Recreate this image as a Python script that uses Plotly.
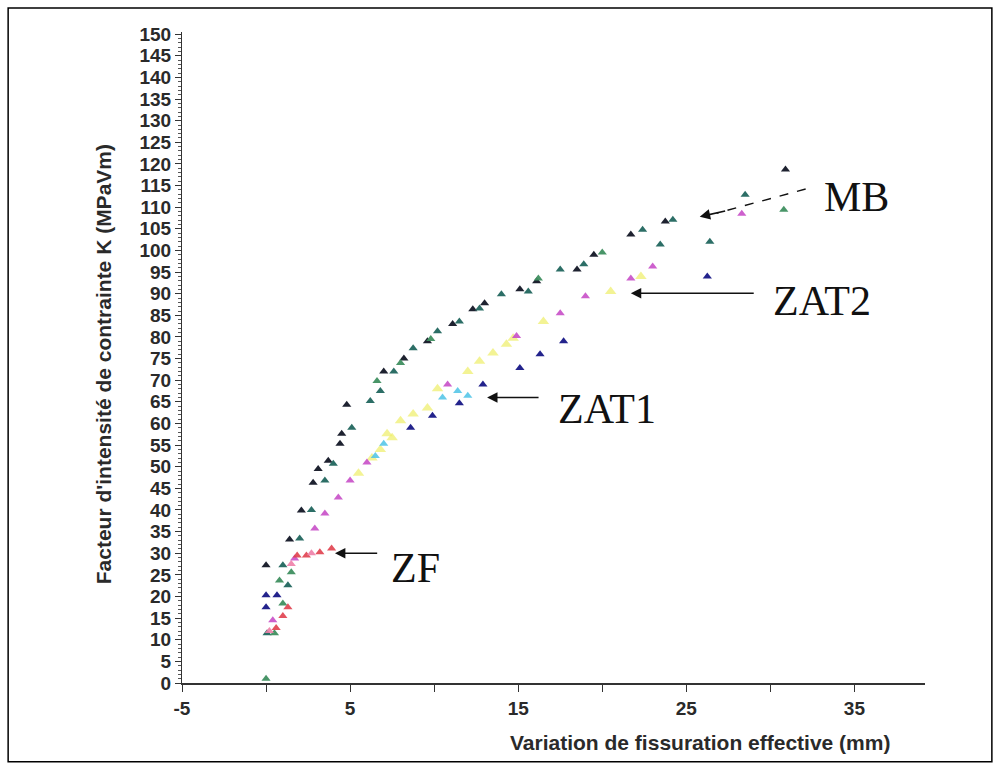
import plotly.graph_objects as go

# Base metal (MB) - dark series
mb_dark_x = [0.0, 1.4, 2.1, 2.8, 3.1, 3.7, 4.4, 4.5, 4.8, 7.0, 8.2, 9.6, 11.1, 12.3, 13.0, 15.1, 16.1, 18.5, 19.5, 21.7, 23.75, 30.9]
mb_dark_y = [27.2, 33.2, 39.9, 46.3, 49.5, 51.4, 55.3, 57.6, 64.3, 72.0, 75.0, 79.0, 83.0, 86.4, 87.8, 91.0, 92.9, 95.6, 99.0, 103.7, 106.7, 118.7]

# Base metal (MB) - teal series
mb_teal_x = [0.06, 1.0, 1.3, 2.0, 2.7, 3.5, 4.0, 5.1, 6.2, 6.8, 7.6, 8.75, 10.2, 11.5, 12.7, 14.0, 15.6, 17.5, 18.9, 22.4, 23.45, 24.2, 26.4, 28.5]
mb_teal_y = [11.5, 27.2, 22.6, 33.4, 40.0, 46.8, 50.7, 59.0, 65.2, 67.5, 72.0, 77.4, 81.3, 83.6, 86.6, 89.9, 90.5, 95.6, 96.8, 104.8, 101.4, 107.1, 102.0, 112.9]

# Base metal (MB) - green series
mb_green_x = [0.0, 0.5, 0.8, 1.0, 1.5, 6.6, 8.0, 9.8, 16.2, 20.0, 30.8]
mb_green_y = [1.0, 11.5, 23.7, 18.4, 25.6, 69.8, 74.0, 79.5, 93.5, 99.5, 109.4]

# ZAT2 - yellow series
zat2_yel_x = [5.5, 6.3, 6.8, 7.2, 7.5, 8.0, 8.75, 9.6, 10.2, 12.0, 12.7, 13.5, 14.3, 14.7, 16.5, 20.5, 22.3]
zat2_yel_y = [48.5, 52.0, 54.0, 57.6, 56.7, 60.6, 62.2, 63.6, 68.0, 72.0, 74.4, 76.3, 78.3, 79.7, 83.6, 90.5, 94.0]

# ZAT2 - magenta series
zat2_mag_x = [0.4, 1.7, 2.9, 3.5, 4.3, 5.0, 6.0, 10.8, 14.9, 17.5, 19.0, 21.7, 23.0, 28.3]
zat2_mag_y = [14.5, 28.8, 35.7, 39.2, 42.9, 46.8, 51.0, 69.0, 80.2, 85.5, 89.4, 93.5, 96.3, 108.5]

# ZAT1 - navy series
zat1_navy_x = [0.0, 0.0, 0.65, 8.6, 9.9, 11.5, 12.9, 15.1, 16.3, 17.7, 26.25]
zat1_navy_y = [20.3, 17.5, 20.3, 59.0, 61.8, 64.7, 69.0, 72.8, 76.0, 79.0, 94.0]

# ZAT1 - cyan series
zat1_cyan_x = [6.5, 7.0, 10.5, 11.4, 12.0]
zat1_cyan_y = [52.5, 55.3, 66.0, 67.5, 66.4]

# ZF - red and pink series
zf_red_x = [0.6, 1.0, 1.3, 1.85, 2.4, 3.2, 3.9]
zf_red_y = [12.7, 15.5, 17.5, 29.5, 29.5, 30.2, 31.1]
zf_pink_x = [0.2, 1.5, 2.7]
zf_pink_y = [12.0, 27.5, 30.0]

x_tick_vals = [-5, 5, 15, 25, 35]
y_tick_vals = list(range(0, 151, 5))

series = [
    (mb_dark_x, mb_dark_y, "#1e2230", 8, 1.0),
    (mb_teal_x, mb_teal_y, "#2c6e66", 8, 1.0),
    (mb_green_x, mb_green_y, "#3f8f60", 8, 0.95),
    (zat2_yel_x, zat2_yel_y, "#eeee66", 10, 0.7),
    (zat2_mag_x, zat2_mag_y, "#c84fc8", 8, 0.9),
    (zat1_navy_x, zat1_navy_y, "#23238c", 8, 1.0),
    (zat1_cyan_x, zat1_cyan_y, "#4cc3e6", 8, 0.85),
    (zf_red_x, zf_red_y, "#e0404e", 8, 0.9),
    (zf_pink_x, zf_pink_y, "#ee7fa8", 8, 0.9),
]

fig = go.Figure()
for xs, ys, col, sz, op in series:
    fig.add_trace(go.Scatter(
        x=xs, y=ys, mode="markers",
        marker=dict(symbol="triangle-up", size=sz, color=col, opacity=op, line=dict(width=0)),
        showlegend=False, hoverinfo="skip",
    ))

tick_font = dict(family="Liberation Sans", size=19, color="#2a2a2a", weight="bold")

fig.update_layout(
    width=1000, height=771,
    margin=dict(l=182, r=75, t=32, b=88),
    paper_bgcolor="white", plot_bgcolor="white",
    xaxis=dict(
        range=[-5, 39.2], tickvals=x_tick_vals, ticktext=[str(v) for v in x_tick_vals],
        showgrid=False, zeroline=False, showline=True, linecolor="#333", linewidth=1.5,
        ticks="outside", ticklen=7, tickwidth=1.2, tickcolor="#333",
        minor=dict(dtick=5, tick0=0, ticks="outside", ticklen=7, tickwidth=1.2, tickcolor="#333"),
        tickfont=tick_font,
    ),
    yaxis=dict(
        range=[0, 150.5], tickvals=y_tick_vals, ticktext=[str(v) for v in y_tick_vals],
        showgrid=False, zeroline=False, showline=True, linecolor="#333", linewidth=1.2,
        ticks="outside", ticklen=6, tickwidth=1, tickcolor="#333",
        minor=dict(dtick=1, tick0=0, ticks="outside", ticklen=3, tickwidth=1, tickcolor="#555"),
        tickfont=tick_font,
    ),
)

title_font = dict(family="Liberation Sans", size=21, color="#2a2a2a", weight="bold")
fig.add_annotation(xref="paper", yref="paper", x=0.955, y=-0.092, xanchor="right", yanchor="middle",
                   text="Variation de fissuration effective (mm)", showarrow=False, font=title_font)
fig.add_annotation(xref="paper", yref="paper", x=-0.106, y=0.49, xanchor="center", yanchor="middle",
                   text="Facteur d'intensité de contrainte K (MPaVm)", textangle=-90,
                   showarrow=False, font=title_font)

label_font = dict(family="Liberation Serif", size=42, color="#111")
labels = [("MB", 35.1, 112.4), ("ZAT2", 33.1, 88.2), ("ZAT1", 20.3, 63.4), ("ZF", 8.9, 26.5)]
for txt, lx, ly in labels:
    fig.add_annotation(x=lx, y=ly, text=txt, showarrow=False, font=label_font,
                       xanchor="center", yanchor="middle")

# Pointer arrows to each curve
arrows = [(21.7, 90.1, 29.1, 90.1), (13.15, 66.0, 16.3, 66.0), (4.1, 30.0, 6.7, 30.0)]
for hx, hy, tx, ty in arrows:
    fig.add_annotation(x=hx, y=hy, ax=tx, ay=ty, axref="x", ayref="y", text="",
                       showarrow=True, arrowhead=2, arrowsize=1.3, arrowwidth=1.6, arrowcolor="#111")

# MB pointer: dashed shaft with a solid head
fig.add_shape(type="line", x0=32.1, y0=114.2, x1=26.8, y1=108.6,
              line=dict(color="#111", width=1.4, dash="dash"))
fig.add_annotation(x=25.8, y=107.8, ax=27.4, ay=109.2, axref="x", ayref="y", text="",
                   showarrow=True, arrowhead=2, arrowsize=1.3, arrowwidth=1.6, arrowcolor="#111")

# Outer frame
fig.add_shape(type="rect", xref="paper", yref="paper", x0=-0.234, y0=-0.121, x1=1.09, y1=1.037,
              line=dict(color="black", width=1.5), fillcolor="rgba(0,0,0,0)")

fig.write_html("out.html")
